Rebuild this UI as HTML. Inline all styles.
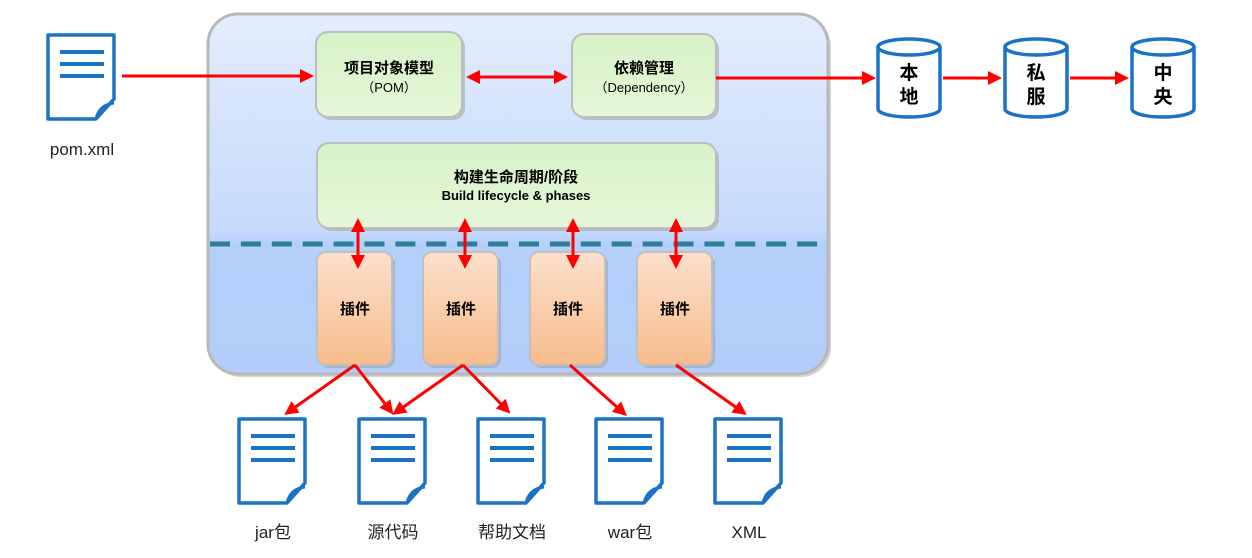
<!DOCTYPE html>
<html><head><meta charset="utf-8"><style>
html,body{margin:0;padding:0;background:#fff;}
svg text{font-family:"Liberation Sans","Noto Sans CJK SC",sans-serif;}
</style></head><body>
<svg width="1252" height="553" viewBox="0 0 1252 553" xmlns="http://www.w3.org/2000/svg">
<defs>
<linearGradient id="bg" x1="0" y1="0" x2="0" y2="1">
<stop offset="0" stop-color="#e3edfc"/><stop offset="0.6" stop-color="#c6dafb"/><stop offset="0.64" stop-color="#b5cffb"/><stop offset="1" stop-color="#b3cdfa"/>
</linearGradient>
<linearGradient id="gr" x1="0" y1="0" x2="0" y2="1">
<stop offset="0" stop-color="#d7f2c8"/><stop offset="1" stop-color="#e6f7d8"/>
</linearGradient>
<linearGradient id="or" x1="0" y1="0" x2="0" y2="1">
<stop offset="0" stop-color="#fce0cc"/><stop offset="1" stop-color="#f7bc8c"/>
</linearGradient>
<marker id="as" markerWidth="14" markerHeight="14" refX="2" refY="7" orient="auto-start-reverse" markerUnits="userSpaceOnUse" viewBox="0 0 14 14">
<path d="M0,0 L14,7 L0,14 z" fill="#f00"/></marker>
<g id="doc">
<path d="M2,2 H68 V66 L50,86 H2 Z" fill="#fff" stroke="#1a73c4" stroke-width="3.5" stroke-linejoin="round"/>
<path d="M50,86 Q53,72 68,70" fill="none" stroke="#1a73c4" stroke-width="3"/>
<rect x="14" y="17" width="44" height="4" fill="#1a73c4"/>
<rect x="14" y="29" width="44" height="4" fill="#1a73c4"/>
<rect x="14" y="41" width="44" height="4" fill="#1a73c4"/>
</g>
<g id="cyl">
<path d="M2,10 V72 A31,8 0 0 0 64,72 V10" fill="#fff" stroke="#1a73c4" stroke-width="3.5"/>
<ellipse cx="33" cy="10" rx="31" ry="8" fill="#fff" stroke="#1a73c4" stroke-width="3.5"/>
</g>
</defs>

<rect x="211" y="17" width="620" height="360" rx="30" fill="#aaa" opacity="0.5"/>
<rect x="208" y="14" width="620" height="360" rx="30" fill="url(#bg)" stroke="#b8b8b8" stroke-width="3"/>
<line x1="210" y1="244" x2="828" y2="244" stroke="#2d7f98" stroke-width="5" stroke-dasharray="20,10.9"/>

<rect x="319" y="35" width="146" height="85" rx="12" fill="#999" opacity="0.5"/>
<rect x="316" y="32" width="146" height="85" rx="12" fill="url(#gr)" stroke="#bdbdbd" stroke-width="2"/>
<text x="389" y="73" text-anchor="middle" font-size="15" font-weight="bold">项目对象模型</text>
<text x="389" y="92" text-anchor="middle" font-size="13">（POM）</text>

<rect x="575" y="37" width="144" height="83" rx="12" fill="#999" opacity="0.5"/>
<rect x="572" y="34" width="144" height="83" rx="12" fill="url(#gr)" stroke="#bdbdbd" stroke-width="2"/>
<text x="644" y="73" text-anchor="middle" font-size="15" font-weight="bold">依赖管理</text>
<text x="644" y="92" text-anchor="middle" font-size="13">（Dependency）</text>

<rect x="320" y="146" width="399" height="85" rx="12" fill="#999" opacity="0.5"/>
<rect x="317" y="143" width="399" height="85" rx="12" fill="url(#gr)" stroke="#bdbdbd" stroke-width="2"/>
<text x="516" y="182" text-anchor="middle" font-size="15" font-weight="bold">构建生命周期/阶段</text>
<text x="516" y="200" text-anchor="middle" font-size="13" font-weight="bold">Build lifecycle &amp; phases</text>

<g font-size="15" font-weight="bold" text-anchor="middle">
<rect x="320" y="255" width="75" height="113" rx="9" fill="#999" opacity="0.5"/>
<rect x="317" y="252" width="75" height="113" rx="9" fill="url(#or)" stroke="#c0c0c0" stroke-width="2"/>
<text x="355" y="314">插件</text>
<rect x="426" y="255" width="75" height="113" rx="9" fill="#999" opacity="0.5"/>
<rect x="423" y="252" width="75" height="113" rx="9" fill="url(#or)" stroke="#c0c0c0" stroke-width="2"/>
<text x="461" y="314">插件</text>
<rect x="533" y="255" width="75" height="113" rx="9" fill="#999" opacity="0.5"/>
<rect x="530" y="252" width="75" height="113" rx="9" fill="url(#or)" stroke="#c0c0c0" stroke-width="2"/>
<text x="568" y="314">插件</text>
<rect x="640" y="255" width="75" height="113" rx="9" fill="#999" opacity="0.5"/>
<rect x="637" y="252" width="75" height="113" rx="9" fill="url(#or)" stroke="#c0c0c0" stroke-width="2"/>
<text x="675" y="314">插件</text>
</g>

<g stroke="#f00" stroke-width="3" fill="none">
<line x1="122" y1="76" x2="302" y2="76" marker-end="url(#as)"/>
<line x1="478" y1="77" x2="556" y2="77" marker-start="url(#as)" marker-end="url(#as)"/>
<line x1="716" y1="78" x2="864" y2="78" marker-end="url(#as)"/>
<line x1="943" y1="78" x2="990" y2="78" marker-end="url(#as)"/>
<line x1="1070" y1="78" x2="1117" y2="78" marker-end="url(#as)"/>
<line x1="358" y1="230" x2="358" y2="257" marker-start="url(#as)" marker-end="url(#as)"/>
<line x1="465" y1="230" x2="465" y2="257" marker-start="url(#as)" marker-end="url(#as)"/>
<line x1="573" y1="230" x2="573" y2="257" marker-start="url(#as)" marker-end="url(#as)"/>
<line x1="676" y1="230" x2="676" y2="257" marker-start="url(#as)" marker-end="url(#as)"/>
<line x1="355" y1="365" x2="294" y2="408" marker-end="url(#as)"/>
<line x1="355" y1="365" x2="386" y2="405" marker-end="url(#as)"/>
<line x1="463" y1="365" x2="402" y2="408" marker-end="url(#as)"/>
<line x1="463" y1="365" x2="502" y2="405" marker-end="url(#as)"/>
<line x1="570" y1="365" x2="618" y2="408" marker-end="url(#as)"/>
<line x1="676" y1="365" x2="737" y2="408" marker-end="url(#as)"/>
</g>

<use href="#doc" x="46" y="33"/>
<text x="82" y="155" text-anchor="middle" font-size="17" fill="#222">pom.xml</text>
<use href="#doc" x="237" y="417"/>
<use href="#doc" x="357" y="417"/>
<use href="#doc" x="476" y="417"/>
<use href="#doc" x="594" y="417"/>
<use href="#doc" x="713" y="417"/>
<g font-size="17" fill="#222" text-anchor="middle">
<text x="273" y="538">jar包</text>
<text x="393" y="538">源代码</text>
<text x="512" y="538">帮助文档</text>
<text x="630" y="538">war包</text>
<text x="749" y="538">XML</text>
</g>

<use href="#cyl" x="876" y="37"/>
<use href="#cyl" x="1003" y="37"/>
<use href="#cyl" x="1130" y="37"/>
<g font-size="19" font-weight="bold" text-anchor="middle">
<text x="909" y="79">本</text><text x="909" y="103">地</text>
<text x="1036" y="79">私</text><text x="1036" y="103">服</text>
<text x="1163" y="79">中</text><text x="1163" y="103">央</text>
</g>
</svg>
</body></html>
